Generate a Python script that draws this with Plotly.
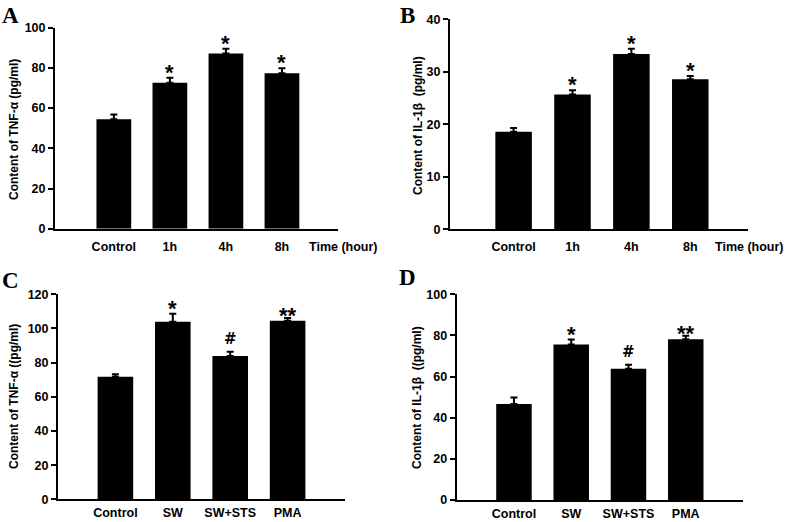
import plotly.graph_objects as go

W, H = 787, 522
FONT = "Liberation Sans, Arial, sans-serif"

# ---- data ----
time_cats = ["Control", "1h", "4h", "8h"]
treat_cats = ["Control", "SW", "SW+STS", "PMA"]

tnf_time = [54.4, 72.6, 87.2, 77.3]
tnf_time_err = [2.4, 2.5, 2.3, 2.5]
tnf_time_marks = ["", "*", "*", "*"]

il1b_time = [18.6, 25.7, 33.4, 28.6]
il1b_time_err = [0.7, 0.8, 1.0, 0.6]
il1b_time_marks = ["", "*", "*", "*"]

tnf_treat = [71.8, 104.0, 83.9, 104.5]
tnf_treat_err = [1.4, 4.6, 2.4, 1.7]
tnf_treat_marks = ["", "*", "#", "**"]

il1b_treat = [46.7, 75.6, 63.8, 78.2]
il1b_treat_err = [3.1, 2.4, 2.0, 1.6]
il1b_treat_marks = ["", "*", "#", "**"]

y_ticks_A = [0, 20, 40, 60, 80, 100]
y_ticks_B = [0, 10, 20, 30, 40]
y_ticks_C = [0, 20, 40, 60, 80, 100, 120]
y_ticks_D = [0, 20, 40, 60, 80, 100]

titles = ["Content of TNF-α (pg/ml)", "Content of IL-1β  (pg/ml)",
          "Content of TNF-α ((pg/ml)", "Content of IL-1β  ((pg/ml)"]
letters = ["A", "B", "C", "D"]

panels = [
    (time_cats, tnf_time, tnf_time_err, tnf_time_marks, y_ticks_A,
     (55, 338), (27.7, 228.7), [-1.05, 4.0], (14, 130), (10, 0.5), (380, 247), 5),
    (time_cats, il1b_time, il1b_time_err, il1b_time_marks, y_ticks_B,
     (450, 748), (19.3, 229.3), [-1.08, 3.98], (418, 125), (407.5, 0.5), (786, 247), 5),
    (treat_cats, tnf_treat, tnf_treat_err, tnf_treat_marks, y_ticks_C,
     (58, 345), (294.3, 499.3), [-1.0, 4.0], (14, 397), (10, 266), None, 1),
    (treat_cats, il1b_treat, il1b_treat_err, il1b_treat_marks, y_ticks_D,
     (456.7, 743), (294.3, 500), [-1.0, 4.0], (417, 398), (407.5, 263), None, 1),
]

fig = go.Figure()
annotations = []

for i, (cats, vals, errs, marks, yt, xpx, ypx, xr, tpos, lpos, tlab, stand) in enumerate(panels):
    n = "" if i == 0 else str(i + 1)
    xa, ya = "x" + n, "y" + n
    fig.add_trace(go.Bar(
        x=cats, y=vals, xaxis=xa, yaxis=ya, width=0.62,
        marker=dict(color="black", line=dict(width=0)),
        error_y=dict(type="data", array=errs, arrayminus=[0] * len(errs),
                     symmetric=False, color="black", thickness=2, width=3.5),
        showlegend=False, hoverinfo="skip",
    ))
    fig.update_layout(**{
        "xaxis" + n: dict(
            domain=[xpx[0] / W, xpx[1] / W], anchor=ya, range=xr,
            showline=True, linecolor="black", linewidth=2, ticks="",
            showgrid=False, zeroline=False, automargin=False,
            tickfont=dict(family=FONT, size=12.5, color="black", weight="bold"),
            ticklabelstandoff=stand,
        ),
        "yaxis" + n: dict(
            domain=[1 - ypx[1] / H, 1 - ypx[0] / H], anchor=xa,
            range=[0, max(yt)], tickvals=yt, automargin=False,
            showline=True, linecolor="black", linewidth=2,
            ticks="outside", ticklen=5, tickwidth=2, tickcolor="black",
            showgrid=False, zeroline=False,
            tickfont=dict(family=FONT, size=12.5, color="black", weight="bold"),
        ),
    })
    for c, v, e, m in zip(cats, vals, errs, marks):
        if m:
            shift = {"*": -9, "**": -12, "#": 2}[m]
            fam = FONT if "*" in m else "DejaVu Sans, sans-serif"
            annotations.append(dict(
                x=c, y=v + e, xref=xa, yref=ya, text=m, showarrow=False,
                yanchor="bottom", yshift=shift,
                font=dict(family=fam, size=(22 if "*" in m else 15),
                          color="black", weight="bold"),
            ))
    annotations.append(dict(
        x=tpos[0] / W, y=1 - tpos[1] / H, xref="paper", yref="paper",
        text=titles[i], textangle=-90, showarrow=False,
        xanchor="center", yanchor="middle",
        font=dict(family=FONT, size=12, color="black", weight="bold"),
    ))
    annotations.append(dict(
        x=lpos[0] / W, y=1 - lpos[1] / H, xref="paper", yref="paper",
        text=letters[i], showarrow=False, xanchor="center", yanchor="top",
        font=dict(family="Liberation Serif, Times New Roman, serif", size=23,
                  color="black", weight="bold"),
    ))
    if tlab:
        annotations.append(dict(
            x=tlab[0] / W, y=1 - tlab[1] / H, xref="paper", yref="paper",
            text="Time (hour)", showarrow=False, xanchor="right", yanchor="middle",
            font=dict(family=FONT, size=12.5, color="black", weight="bold"),
        ))

fig.update_layout(
    template="none",
    width=W, height=H, margin=dict(l=0, r=0, t=0, b=0, autoexpand=False),
    paper_bgcolor="white", plot_bgcolor="white",
    annotations=annotations, bargap=0.38, hovermode=False,
)

fig.write_html("out.html", config={"displayModeBar": False},
               post_script="document.body.style.margin='0';")
